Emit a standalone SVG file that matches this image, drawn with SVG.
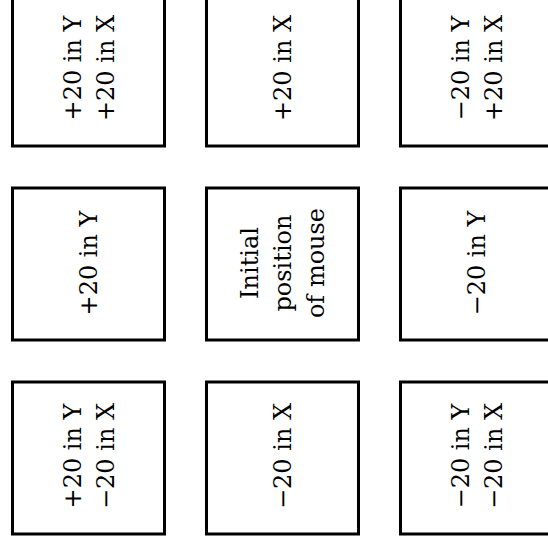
<svg xmlns="http://www.w3.org/2000/svg" width="548" height="550" viewBox="0 0 548 550">
<style>
.box{fill:#fff;stroke:#000;stroke-width:3}
.t{font-family:"DejaVu Serif",serif;font-size:24px;fill:#000;text-anchor:middle}
</style>
<rect width="548" height="550" fill="#fff"/>
<g id="n-pYpX"><rect class="box" x="12.5" y="-6" width="152" height="152"/>
<text class="t" transform="translate(88.5,68) rotate(-90)"><tspan x="0" y="-8">+20 in Y</tspan><tspan x="0" y="25">+20 in X</tspan></text></g>
<g id="n-pX"><rect class="box" x="206.5" y="-6" width="152" height="152"/>
<text class="t" transform="translate(282.5,68) rotate(-90)"><tspan x="0" y="8.7">+20 in X</tspan></text></g>
<g id="n-mYpX"><rect class="box" x="400.5" y="-6" width="152" height="152"/>
<text class="t" transform="translate(476.5,68) rotate(-90)"><tspan x="0" y="-8">−20 in Y</tspan><tspan x="0" y="25">+20 in X</tspan></text></g>
<g id="n-pY"><rect class="box" x="12.5" y="188" width="152" height="152"/>
<text class="t" transform="translate(88.5,263) rotate(-90)"><tspan x="0" y="8.7">+20 in Y</tspan></text></g>
<g id="n-init"><rect class="box" x="206.5" y="188" width="152" height="152"/>
<text class="t" transform="translate(282.5,263) rotate(-90)"><tspan x="0" y="-24.3">Initial</tspan><tspan x="0" y="8.7">position</tspan><tspan x="0" y="41.7">of mouse</tspan></text></g>
<g id="n-mY"><rect class="box" x="400.5" y="188" width="152" height="152"/>
<text class="t" transform="translate(476.5,263) rotate(-90)"><tspan x="0" y="8.7">−20 in Y</tspan></text></g>
<g id="n-pYmX"><rect class="box" x="12.5" y="382" width="152" height="152"/>
<text class="t" transform="translate(88.5,456) rotate(-90)"><tspan x="0" y="-8">+20 in Y</tspan><tspan x="0" y="25">−20 in X</tspan></text></g>
<g id="n-mX"><rect class="box" x="206.5" y="382" width="152" height="152"/>
<text class="t" transform="translate(282.5,456) rotate(-90)"><tspan x="0" y="8.7">−20 in X</tspan></text></g>
<g id="n-mYmX"><rect class="box" x="400.5" y="382" width="152" height="152"/>
<text class="t" transform="translate(476.5,456) rotate(-90)"><tspan x="0" y="-8">−20 in Y</tspan><tspan x="0" y="25">−20 in X</tspan></text></g>
<g id="connectors"></g>
</svg>
